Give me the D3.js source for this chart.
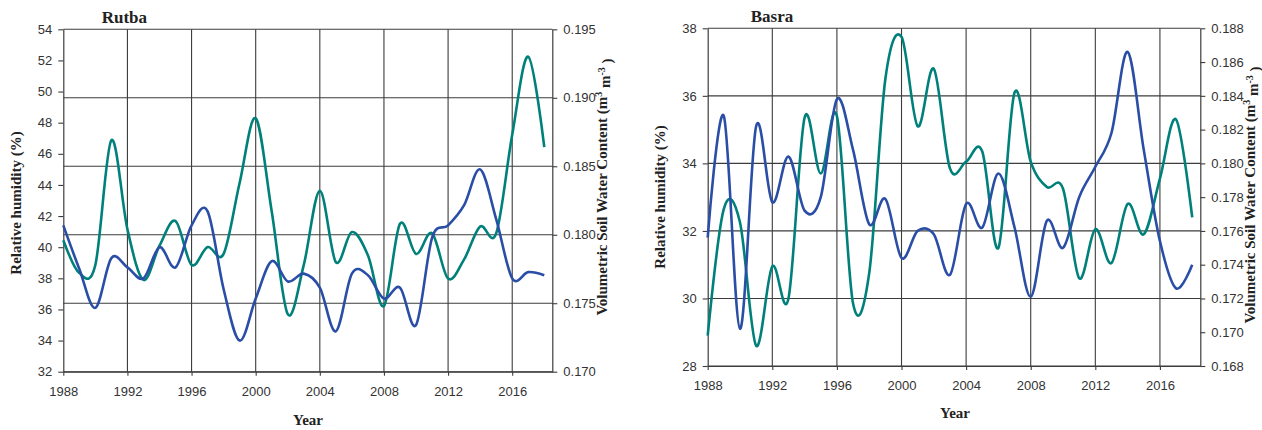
<!DOCTYPE html>
<html><head><meta charset="utf-8">
<script src="https://cdn.jsdelivr.net/npm/d3@7"></script>
<style>body{margin:0;background:#fff}svg{display:block}</style>
</head><body>
<svg id="c" width="1262" height="430"></svg>
<script>
// ---------- data ----------
const years = [1988,1989,1990,1991,1992,1993,1994,1995,1996,1997,1998,1999,2000,2001,2002,2003,2004,2005,2006,2007,2008,2009,2010,2011,2012,2013,2014,2015,2016,2017,2018];

// Rutba
const rutbaRH  = [41.4,38.6,36.1,39.3,38.7,38.0,40.0,38.7,41.4,42.3,37.3,34.0,36.7,39.1,37.8,38.3,37.4,34.6,38.3,38.2,36.7,37.4,35.0,40.6,41.4,42.7,45.0,41.8,38.0,38.4,38.2];
const rutbaSWC = [0.1796,0.1772,0.1778,0.1869,0.1804,0.1767,0.1792,0.1810,0.1778,0.1791,0.1786,0.1838,0.1885,0.1817,0.1742,0.1778,0.1832,0.1780,0.1802,0.1785,0.1748,0.1808,0.1786,0.1801,0.1768,0.1782,0.1806,0.1801,0.1873,0.1930,0.1864];

// Basra
const basraRH  = [31.8,35.4,29.1,35.1,32.85,34.2,32.6,33.0,35.9,34.4,32.2,32.95,31.2,32.0,31.9,30.7,32.8,32.1,33.7,32.1,30.05,32.3,31.5,33.0,33.9,34.9,37.3,34.4,31.7,30.3,31.0];
const basraSWC = [0.1698,0.1773,0.1765,0.1692,0.1739,0.1720,0.1827,0.1794,0.1828,0.1717,0.1735,0.1850,0.1875,0.1822,0.1856,0.1797,0.1801,0.1807,0.1750,0.1842,0.1801,0.1786,0.1785,0.1732,0.1761,0.1741,0.1776,0.1758,0.1791,0.1826,0.1768];

// ticks
const xTicks = [1988,1992,1996,2000,2004,2008,2012,2016];
const rutbaLeftTicks  = [32,34,36,38,40,42,44,46,48,50,52,54];
const rutbaRightTicks = [0.170,0.175,0.180,0.185,0.190,0.195];
const basraLeftTicks  = [28,30,32,34,36,38];
const basraRightTicks = [0.168,0.170,0.172,0.174,0.176,0.178,0.180,0.182,0.184,0.186,0.188];

const titles = ["Rutba","Basra"];
const xLabel = "Year";
const leftLabel = "Relative humidity (%)";

// ---------- drawing ----------
const svg = d3.select("#c");
svg.append("rect").attr("width",1262).attr("height",430).attr("fill","#fff");

const BLUE = "#2a4ea6", TEAL = "#00807a", GRID = "#3c3c3c", TXT = "#333";

function panel(cfg){
  const g = svg.append("g");
  const x = d3.scaleLinear().domain([1988, 2018.5]).range([cfg.l, cfg.r]);
  const yL = d3.scaleLinear().domain(cfg.lDom).range([cfg.b, cfg.t]);
  const yR = d3.scaleLinear().domain(cfg.rDom).range([cfg.b, cfg.t]);

  // grid
  const gridY = cfg.gridRight ? cfg.rTicks.map(v => yR(v)) : cfg.lTicks.map(v => yL(v));
  g.selectAll("line.hg").data(gridY).enter().append("line")
    .attr("x1", cfg.l).attr("x2", cfg.r).attr("y1", d=>d).attr("y2", d=>d)
    .attr("stroke", GRID).attr("stroke-width", 1.1);
  g.selectAll("line.vg").data(xTicks.slice(1)).enter().append("line")
    .attr("x1", d=>x(d)).attr("x2", d=>x(d)).attr("y1", cfg.t).attr("y2", cfg.b)
    .attr("stroke", GRID).attr("stroke-width", 1.1);

  // axes
  const axL = g.append("g").attr("transform",`translate(${cfg.l},0)`)
    .call(d3.axisLeft(yL).tickValues(cfg.lTicks).tickSize(5).tickSizeOuter(0).tickPadding(6).tickFormat(d3.format("d")));
  const axR = g.append("g").attr("transform",`translate(${cfg.r},0)`)
    .call(d3.axisRight(yR).tickValues(cfg.rTicks).tickSize(5).tickSizeOuter(0).tickPadding(6).tickFormat(d3.format(".3f")));
  const axB = g.append("g").attr("transform",`translate(0,${cfg.b})`)
    .call(d3.axisBottom(x).tickValues(xTicks).tickSize(4).tickSizeOuter(0).tickPadding(11).tickFormat(d3.format("d")));
  [axL,axR,axB].forEach(a=>{
    a.selectAll("path.domain").attr("stroke", GRID).attr("stroke-width",1.2);
    a.selectAll(".tick line").attr("stroke", GRID).attr("stroke-width",1.1);
    a.selectAll("text").attr("font-family","'Liberation Sans', Arial, sans-serif").attr("font-size",13).attr("fill",TXT);
  });

  // lines
  const lineR = d3.line().x((d,i)=>x(years[i])).y(d=>yR(d)).curve(d3.curveCardinal.tension(0));
  const lineL = d3.line().x((d,i)=>x(years[i])).y(d=>yL(d)).curve(d3.curveCardinal.tension(0));
  g.append("path").datum(cfg.swc).attr("d", lineR).attr("fill","none").attr("stroke",TEAL).attr("stroke-width",2.6);
  g.append("path").datum(cfg.rh).attr("d", lineL).attr("fill","none").attr("stroke",BLUE).attr("stroke-width",2.6);

  // texts
  const serif = "'Liberation Serif', 'Times New Roman', serif";
  g.append("text").attr("x", cfg.titleX).attr("y", cfg.titleY).text(cfg.title)
    .attr("font-family", serif).attr("font-weight","bold").attr("font-size",17).attr("fill","#222");
  g.append("text").attr("x", cfg.yearX).attr("y", cfg.yearY).attr("text-anchor","middle").text(xLabel)
    .attr("font-family", serif).attr("font-weight","bold").attr("font-size",15).attr("fill","#222");
  g.append("text").attr("transform",`translate(${cfg.llX},${cfg.llY}) rotate(-90)`).attr("text-anchor","middle")
    .attr("dy","0.35em").text(leftLabel)
    .attr("font-family", serif).attr("font-weight","bold").attr("font-size",15).attr("fill","#222");
  const rl = g.append("text").attr("transform",`translate(${cfg.rlX},${cfg.rlY}) rotate(-90)`).attr("text-anchor","middle")
    .attr("dy","0.35em")
    .attr("font-family", serif).attr("font-weight","bold").attr("font-size",15).attr("fill","#222");
  rl.append("tspan").text("Volumetric Soil Water Content (m");
  rl.append("tspan").attr("dy","-0.5em").attr("font-size",10).text("3");
  rl.append("tspan").attr("dy","0.5em").text(" m");
  rl.append("tspan").attr("dy","-0.5em").attr("font-size",10).text("-3");
  rl.append("tspan").attr("dy","0.5em").text(" )");
}

panel({l:63.3, r:552.3, t:29.3, b:371.7, lDom:[32,54], rDom:[0.170,0.195],
  lTicks:rutbaLeftTicks, rTicks:rutbaRightTicks, gridRight:true,
  rh:rutbaRH, swc:rutbaSWC, title:titles[0], titleX:101.7, titleY:22.7,
  yearX:308, yearY:425, llX:16, llY:203, rlX:602, rlY:187});

panel({l:707.7, r:1200.3, t:28.3, b:366, lDom:[28,38], rDom:[0.168,0.188],
  lTicks:basraLeftTicks, rTicks:basraRightTicks, gridRight:false,
  rh:basraRH, swc:basraSWC, title:titles[1], titleX:750.7, titleY:21.7,
  yearX:955, yearY:418, llX:660, llY:197, rlX:1250, rlY:195});
</script>
</body></html>
